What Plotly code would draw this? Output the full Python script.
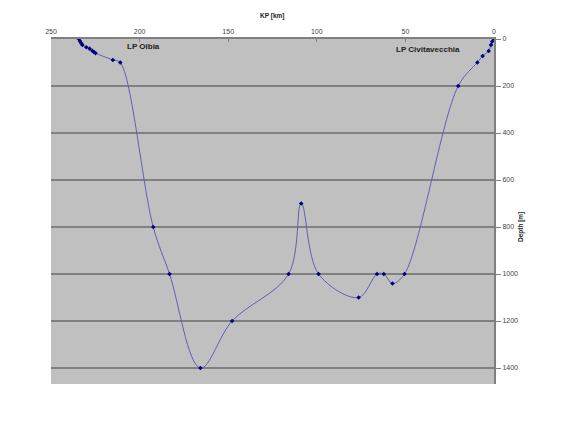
import plotly.graph_objects as go

kp_km = [234.3, 233.7, 232.9, 232.3, 230.1, 228.2, 226.7, 225.8, 224.9, 215.1, 210.9,
         192.3, 183.1, 165.7, 147.8, 115.9, 108.8, 99.0, 76.4, 66.0, 62.2, 57.3, 50.5,
         20.2, 9.4, 6.4, 3.0, 1.7, 1.0, 0.0]
depth_m = [0, 9, 18, 25, 35, 41, 50, 55, 60, 89, 100,
           800, 1000, 1400, 1200, 1000, 700, 1000, 1100, 1000, 1000, 1040, 1000,
           200, 100, 72, 51, 25, 11, 0]

x_ticks = [250, 200, 150, 100, 50, 0]
y_ticks = [0, 200, 400, 600, 800, 1000, 1200, 1400]

fig = go.Figure()
fig.add_trace(go.Scatter(
    x=kp_km, y=depth_m, mode="lines+markers",
    line=dict(color="#5f5fb5", width=1, shape="spline", smoothing=1.0),
    marker=dict(color="#000080", size=3.5, symbol="diamond"),
    showlegend=False, hoverinfo="skip",
))

font_family = "Liberation Sans, Arial, sans-serif"

fig.update_layout(
    width=562, height=416,
    margin=dict(l=43, r=76, t=31, b=40),
    paper_bgcolor="white",
    plot_bgcolor="#c0c0c0",
    font=dict(family=font_family, size=7, color="#333333"),
    xaxis=dict(
        side="top", range=[250, 0], tickvals=x_ticks,
        showgrid=False, zeroline=False,
        showline=True, linecolor="#808080", linewidth=2,
        ticks="inside", ticklen=3, tickcolor="#808080",
        tickfont=dict(size=7, color="#444444"),
        mirror=False,
    ),
    yaxis=dict(
        side="right", range=[1468, 0], tickvals=y_ticks,
        showgrid=True, gridcolor="#808080", gridwidth=1.5,
        zeroline=False,
        showline=True, linecolor="#808080", linewidth=2,
        ticks="outside", ticklen=5, tickcolor="#808080",
        tickfont=dict(size=7, color="#444444"),
    ),
    annotations=[
        dict(x=198, y=31.5, xref="x", yref="y", text="<b>LP Olbia</b>",
             showarrow=False, font=dict(size=8, color="#222222")),
        dict(x=37.3, y=42.6, xref="x", yref="y", text="<b>LP Civitavecchia</b>",
             showarrow=False, font=dict(size=8, color="#222222")),
        dict(x=0.499, y=1.068, xref="paper", yref="paper", text="<b>KP [km]</b>",
             xanchor="center", yanchor="middle",
             showarrow=False, font=dict(size=6.5, color="#222222")),
        dict(x=1.061, y=0.455, xref="paper", yref="paper", text="<b>Depth [m]</b>",
             xanchor="center", yanchor="middle",
             showarrow=False, textangle=-90, font=dict(size=6.5, color="#222222")),
    ],
)

fig.write_html("out.html")
